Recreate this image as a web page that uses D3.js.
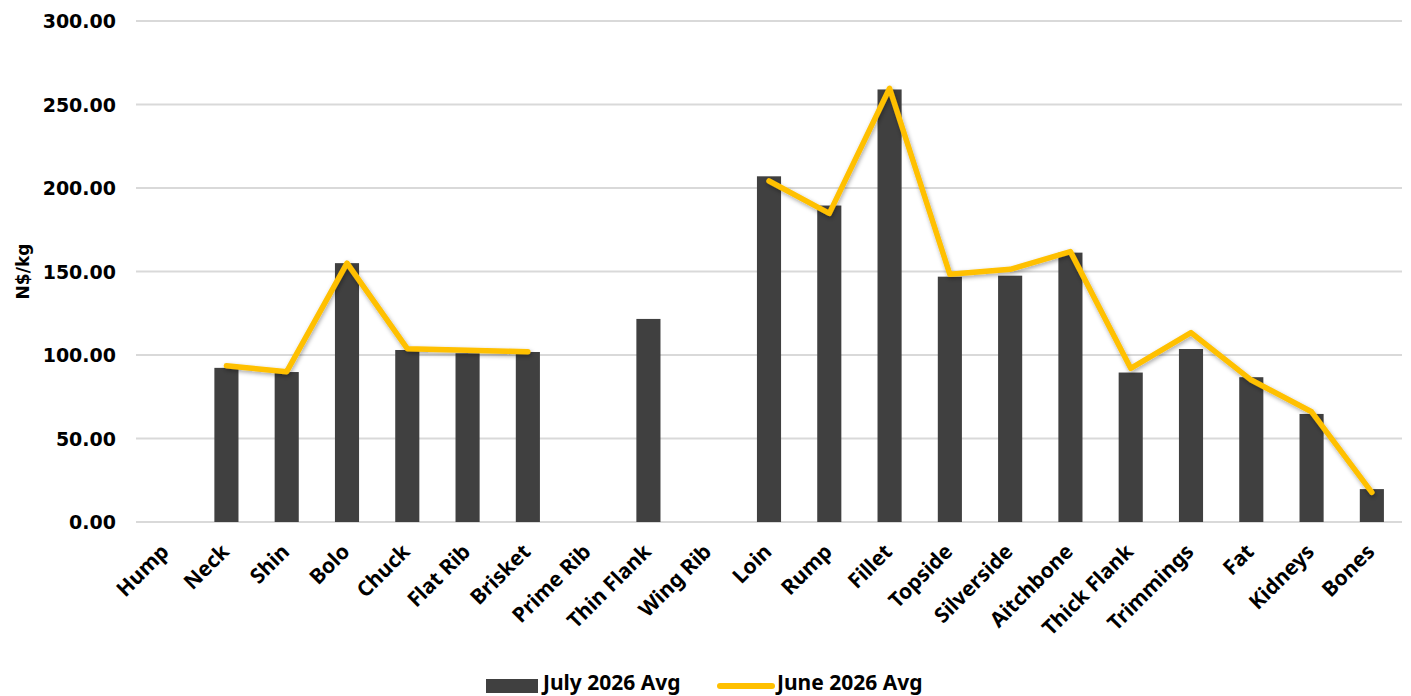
<!DOCTYPE html>
<html>
<head>
<meta charset="utf-8">
<script src="https://cdn.jsdelivr.net/npm/d3@7"></script>
<style>
  body { margin: 0; background: #fff; }
  svg text { fill: #000; }
</style>
</head>
<body>
<div id="chart"></div>
<script>
// data
const cuts = ["Hump", "Neck", "Shin", "Bolo", "Chuck", "Flat Rib", "Brisket", "Prime Rib", "Thin Flank", "Wing Rib",
  "Loin", "Rump", "Fillet", "Topside", "Silverside", "Aitchbone", "Thick Flank", "Trimmings", "Fat", "Kidneys", "Bones"]
const july = [null, 92.3, 89.8, 155, 103, 101, 101.8, null, 121.6, null,
  207, 189.5, 259, 146.9, 147.5, 161.3, 89.5, 103.6, 86.7, 64.7, 19.7]
const june = [null, 93.6, 90, 155, 103.8, 102.8, 102, null, null, null,
  204.2, 184.8, 259.7, 148.3, 151.3, 161.9, 92, 113.4, 85, 66, 17.8]
const yTicks = [0, 50, 100, 150, 200, 250, 300]
const seriesNames = ["July 2026 Avg", "June 2026 Avg"]

const W = 1411, H = 696
const margin = {top: 21, right: 9, bottom: 174, left: 136}

const svg = d3.select("#chart").append("svg")
  .attr("width", W)
  .attr("height", H)

const x = d3.scaleBand().domain(cuts).range([margin.left, W - margin.right]).paddingInner(0.6).paddingOuter(0.3)
const y = d3.scaleLinear().domain([0, 300]).range([H - margin.bottom, margin.top])

// shadow for the line
const defs = svg.append("defs")
const f = defs.append("filter").attr("id", "shadow").attr("x", "-10%").attr("y", "-10%").attr("width", "120%").attr("height", "130%")
f.append("feDropShadow").attr("dx", 1).attr("dy", 2).attr("stdDeviation", 2).attr("flood-color", "#000").attr("flood-opacity", 0.35)

// gridlines
svg.append("g")
  .selectAll("line")
  .data(yTicks)
  .enter().append("line")
  .attr("x1", margin.left)
  .attr("x2", W - margin.right)
  .attr("y1", d => y(d))
  .attr("y2", d => y(d))
  .attr("stroke", "#d9d9d9")
  .attr("stroke-width", 2)

// y axis labels
const yAxis = svg.append("g")
  .attr("transform", `translate(${margin.left - 20},0)`)
  .call(d3.axisLeft(y).tickValues(yTicks).tickFormat(d3.format(".2f")).tickSize(0).tickPadding(0))
yAxis.select(".domain").remove()
yAxis.selectAll("text")
  .style("font-family", "'DejaVu Sans', sans-serif")
  .style("font-weight", "bold")
  .style("font-size", "19px")
  .attr("dy", "0.36em")

svg.append("text")
  .attr("transform", `translate(29,${(y(0) + y(300)) / 2}) rotate(-90)`)
  .style("text-anchor", "middle")
  .style("font-family", "'DejaVu Sans', sans-serif")
  .style("font-weight", "bold")
  .style("font-size", "17px")
  .text("N$/kg")

// bars
svg.append("g")
  .selectAll("rect")
  .data(cuts.map((c, i) => ({c: c, v: july[i]})).filter(d => d.v !== null))
  .enter().append("rect")
  .attr("x", d => x(d.c))
  .attr("width", x.bandwidth())
  .attr("y", d => y(d.v))
  .attr("height", d => y(0) - y(d.v))
  .attr("fill", "#404040")

// line
const line = d3.line()
  .defined(d => d.v !== null)
  .x(d => x(d.c) + x.bandwidth() / 2)
  .y(d => y(d.v))

svg.append("path")
  .datum(cuts.map((c, i) => ({c: c, v: june[i]})))
  .attr("d", line)
  .attr("fill", "none")
  .attr("stroke", "#FFC000")
  .attr("stroke-width", 5.5)
  .attr("stroke-linecap", "round")
  .attr("stroke-linejoin", "round")
  .attr("filter", "url(#shadow)")

// x labels
svg.append("g")
  .selectAll("text")
  .data(cuts)
  .enter().append("text")
  .attr("transform", d => `translate(${x(d) + x.bandwidth() / 2 + 4},${y(0) + 31}) rotate(-45)`)
  .style("text-anchor", "end")
  .style("font-family", "'Noto Sans', sans-serif")
  .style("font-weight", "bold")
  .style("font-size", "21px")
  .text(d => d)

// legend
const lg = svg.append("g").attr("transform", "translate(486,686)")
lg.append("rect").attr("x", 0).attr("y", -7).attr("width", 52).attr("height", 14).attr("fill", "#404040")
lg.append("text").attr("x", 57).attr("y", 4)
  .style("font-family", "'Noto Sans', sans-serif").style("font-weight", "bold").style("font-size", "21px")
  .text(seriesNames[0])
lg.append("line").attr("x1", 234).attr("x2", 286).attr("y1", 0).attr("y2", 0)
  .attr("stroke", "#FFC000").attr("stroke-width", 6).attr("stroke-linecap", "round")
lg.append("text").attr("x", 291).attr("y", 4)
  .style("font-family", "'Noto Sans', sans-serif").style("font-weight", "bold").style("font-size", "21px")
  .text(seriesNames[1])
</script>
</body>
</html>
